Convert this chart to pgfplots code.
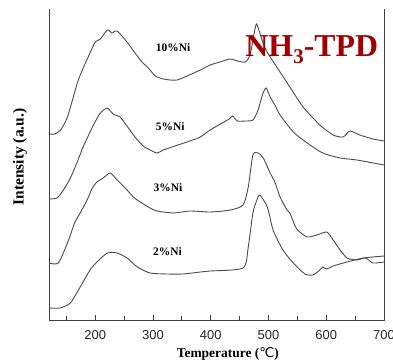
\documentclass[border=0pt]{standalone}
\usepackage{pgfplots}
\pgfplotsset{compat=1.18}
\usepackage{fontspec}
\setmainfont{Liberation Serif}
\newfontfamily\arialfont{Liberation Sans}
\newfontfamily\symfont{DejaVu Sans}
\definecolor{curve}{RGB}{75,75,75}
\definecolor{titlered}{RGB}{160,0,0}
\begin{document}
\begin{tikzpicture}
\path[use as bounding box] (-49bp,-42bp) rectangle (344bp,320bp);
\begin{axis}[
  at={(0,0)}, anchor=south west,
  scale only axis, width=335bp, height=311bp,
  xmin=120, xmax=700, ymin=0, ymax=311,
  xtick={200,300,400,500,600,700},
  minor xtick={150,250,350,450,550,650},
  ytick=\empty,
  xtick pos=bottom,
  tick align=inside,
  major tick length=5bp, minor tick length=4bp,
  tick style={line width=0.9pt, color=black!75},
  axis line style={draw=none},
  /pgf/number format/assume math mode=true,
  xticklabel style={font=\arialfont\fontsize{13}{13}\selectfont, text=black!85, yshift=-7bp},
  every axis x label/.style={at={(rel axis cs:0.534,0)}, yshift=-34bp, anchor=center},
  every axis y label/.style={at={(rel axis cs:0,0.524)}, xshift=-29bp, rotate=90, anchor=center},
  xlabel={\bfseries\fontsize{13.5}{13.5}\selectfont Temperature ({\symfont\mdseries ℃})},
  ylabel={\bfseries\fontsize{15.5}{15.5}\selectfont Intensity (a.u.)},
  clip=false,
]
% 10%Ni
\addplot[curve, line width=0.9pt, smooth, tension=0.4] coordinates {
(120,186)(130,186)(140,190)(152,203)(169,237)(180,253)(191,267)(200,278)(209,281)
(221,290)(229,287)(234,289)(240,288)(255,278)(269,267)(281,258)(292,252)(304,244)
(318,241)(330,240)(342,240)(359,244)(382,250)(399,255)(416,258)(434,261)(446,259)
(460,258)(468,265)(474,283)(479,296)(485,287)(493,273)(503,263)(520,248)(537,233)
(560,213)(589,195)(612,185)(629,183)(641,189)(658,185)(681,181)(700,179)};
% 5%Ni
\addplot[curve, line width=0.9pt, smooth, tension=0.4] coordinates {
(120,121)(134,122)(145,130)(157,142)(169,158)(179,173)(197,195)(209,207)(221,212)
(231,206)(243,203)(255,194)(269,183)(283,174)(295,170)(307,167)(318,170)(338,174)
(364,179)(382,183)(399,190)(420,197)(432,201)(438,204)(446,199)(460,199)(473,200)
(482,210)(490,226)(496,232)(503,223)(512,214)(520,205)(543,188)(567,177)(594,167)
(624,162)(653,160)(700,155)};
% 3%Ni
\addplot[curve, line width=0.9pt, smooth, tension=0.4] coordinates {
(120,57)(136,57)(152,77)(165,98)(174,107)(186,120)(195,132)(203,138)(214,142)
(226,147)(238,140)(252,132)(266,123)(278,118)(295,112)(307,109)(335,107)(364,109)
(399,108)(434,110)(456,115)(465,133)(473,165)(482,167)(491,162)(503,147)(511,138)
(520,123)(532,110)(537,107)(549,91)(567,83)(584,85)(601,88)(612,80)(624,70)(636,62)
(653,60)(668,62)(681,57)(700,58)};
% 2%Ni
\addplot[curve, line width=0.9pt, smooth, tension=0.4] coordinates {
(120,12)(139,12)(157,17)(174,33)(191,50)(203,58)(221,67)(238,67)(255,62)(273,53)
(295,47)(325,46)(352,46)(382,48)(399,49)(456,52)(465,73)(473,107)(480,120)(485,125)
(498,113)(508,90)(525,70)(543,57)(563,46)(577,45)(589,50)(594,53)(601,51)(612,54)
(636,58)(664,62)(700,64)};
\draw[line width=0.9pt, black!75] (rel axis cs:0,1) -- (rel axis cs:0,0) -- (rel axis cs:1,0) -- (rel axis cs:1,1);
\node[font=\bfseries\fontsize{11.5}{11.5}\selectfont] at (axis cs:335,272) {10\%Ni};
\node[font=\bfseries\fontsize{11.5}{11.5}\selectfont] at (axis cs:330,193) {5\%Ni};
\node[font=\bfseries\fontsize{11.5}{11.5}\selectfont] at (axis cs:326,132) {3\%Ni};
\node[font=\bfseries\fontsize{11.5}{11.5}\selectfont] at (axis cs:325,68) {2\%Ni};
\node[font=\bfseries\fontsize{32}{32}\selectfont, text=titlered] at (axis cs:575,270) {NH\raisebox{-7bp}{\fontsize{21}{21}\selectfont 3}-TPD};
\end{axis}
\end{tikzpicture}
\end{document}
